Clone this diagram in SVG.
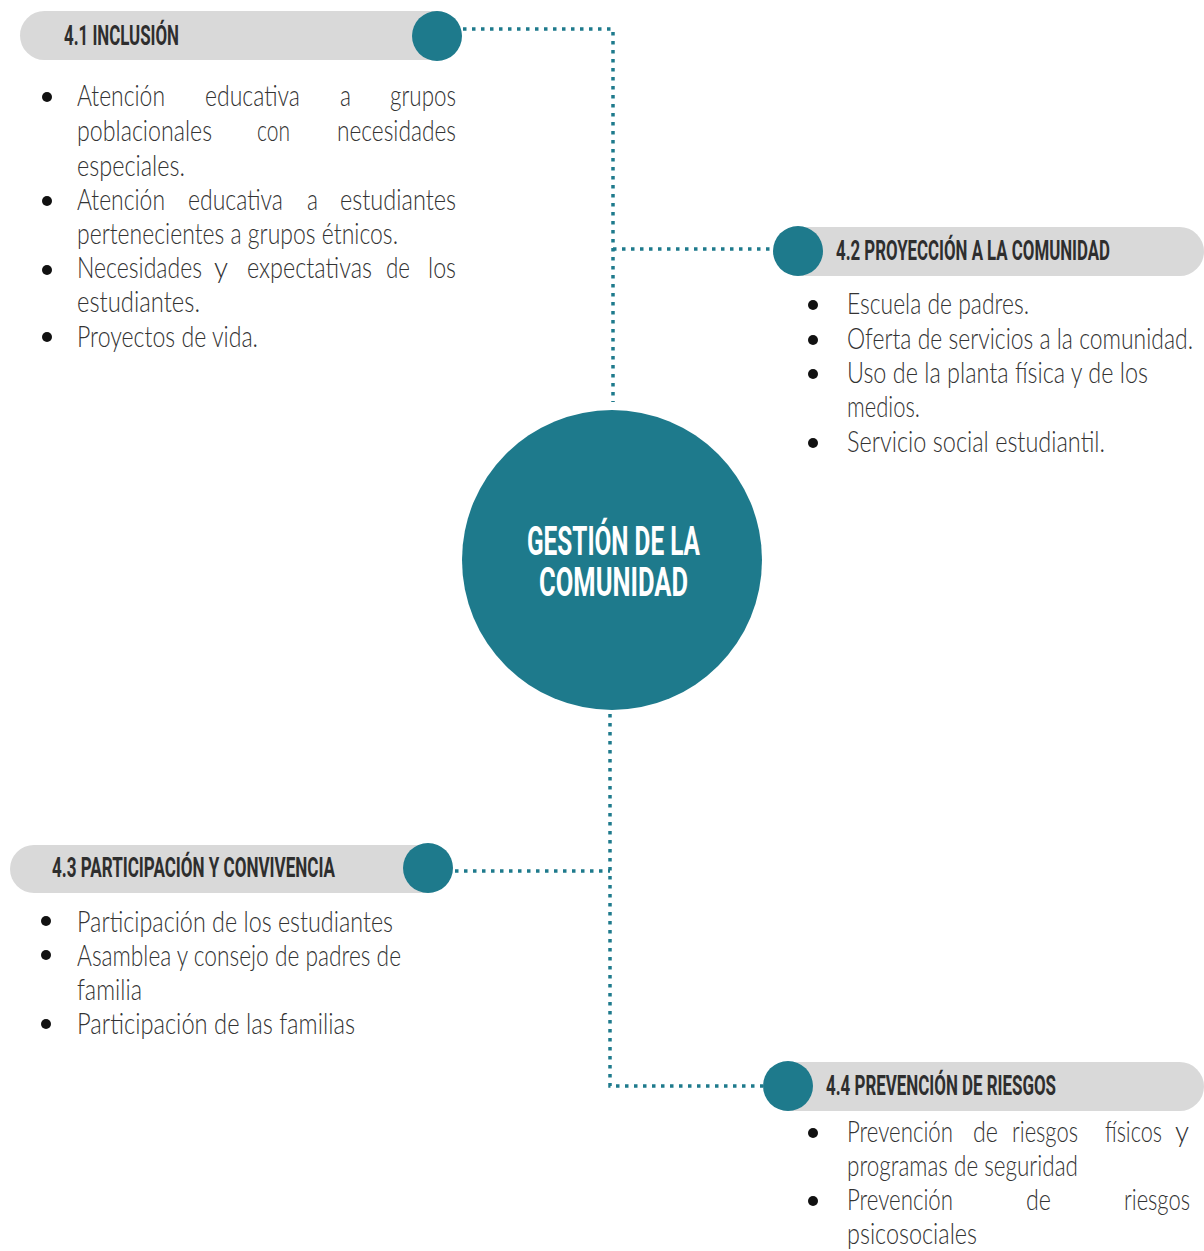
<svg xmlns="http://www.w3.org/2000/svg" width="1204" height="1251" viewBox="0 0 1204 1251">
<style>
.pill{fill:#d9d9d9}
.dot{fill:#1e7a8c}
.hd{font-family:Roboto,"Liberation Sans",sans-serif;font-weight:700;font-size:27px;fill:#2e2e2e}
.ct{font-family:Roboto,"Liberation Sans",sans-serif;font-weight:700;font-size:40px;fill:#fff}
.b{font-family:Lato,"Open Sans",sans-serif;font-weight:300;font-size:30px;fill:#333}
.bu{fill:#111}
.conn{fill:none;stroke:#1e7a8c;stroke-width:3.5;stroke-dasharray:3.5 5.5}
</style>
<rect width="1204" height="1251" fill="#fff"/>
<g id="connectors">
<path class="conn" d="M463 29H613V402"/>
<path class="conn" d="M613 249H773"/>
<path class="conn" d="M610 714V1086H763"/>
<path class="conn" d="M455 871H610"/>
</g>
<g id="center">
<circle cx="612" cy="560" r="150" fill="#1e7a8c"/>
<text class="ct" x="527" y="555" textLength="173" lengthAdjust="spacingAndGlyphs">GESTIÓN DE LA</text>
<text class="ct" x="539" y="596" textLength="149" lengthAdjust="spacingAndGlyphs">COMUNIDAD</text>
</g>
<g id="n41">
<rect class="pill" x="20" y="11" width="440" height="49" rx="24.5"/>
<circle class="dot" cx="437" cy="36" r="25"/>
<text class="hd" x="64" y="45" textLength="115" lengthAdjust="spacingAndGlyphs">4.1 INCLUSIÓN</text>
<circle class="bu" cx="47" cy="97" r="5"/>
<circle class="bu" cx="47" cy="201" r="5"/>
<circle class="bu" cx="47" cy="270" r="5"/>
<circle class="bu" cx="47" cy="337" r="5"/>
<text class="b" x="77" y="106" textLength="88" lengthAdjust="spacingAndGlyphs">Atención</text>
<text class="b" x="205" y="106" textLength="95" lengthAdjust="spacingAndGlyphs">educativa</text>
<text class="b" x="340" y="106" textLength="11" lengthAdjust="spacingAndGlyphs">a</text>
<text class="b" x="390" y="106" textLength="66" lengthAdjust="spacingAndGlyphs">grupos</text>
<text class="b" x="77" y="141" textLength="135" lengthAdjust="spacingAndGlyphs">poblacionales</text>
<text class="b" x="257" y="141" textLength="33" lengthAdjust="spacingAndGlyphs">con</text>
<text class="b" x="337" y="141" textLength="119" lengthAdjust="spacingAndGlyphs">necesidades</text>
<text class="b" x="77" y="176" textLength="108" lengthAdjust="spacingAndGlyphs">especiales.</text>
<text class="b" x="77" y="210" textLength="88" lengthAdjust="spacingAndGlyphs">Atención</text>
<text class="b" x="188" y="210" textLength="95" lengthAdjust="spacingAndGlyphs">educativa</text>
<text class="b" x="307" y="210" textLength="11" lengthAdjust="spacingAndGlyphs">a</text>
<text class="b" x="340" y="210" textLength="116" lengthAdjust="spacingAndGlyphs">estudiantes</text>
<text class="b" x="77" y="244" textLength="321" lengthAdjust="spacingAndGlyphs">pertenecientes a grupos étnicos.</text>
<text class="b" x="77" y="278" textLength="125" lengthAdjust="spacingAndGlyphs">Necesidades</text>
<text class="b" x="214" y="278" textLength="14" lengthAdjust="spacingAndGlyphs">y</text>
<text class="b" x="247" y="278" textLength="125" lengthAdjust="spacingAndGlyphs">expectativas</text>
<text class="b" x="386" y="278" textLength="24" lengthAdjust="spacingAndGlyphs">de</text>
<text class="b" x="428" y="278" textLength="28" lengthAdjust="spacingAndGlyphs">los</text>
<text class="b" x="77" y="312" textLength="123" lengthAdjust="spacingAndGlyphs">estudiantes.</text>
<text class="b" x="77" y="347" textLength="181" lengthAdjust="spacingAndGlyphs">Proyectos de vida.</text>
</g>
<g id="n42">
<rect class="pill" x="775" y="227" width="429" height="49" rx="24.5"/>
<circle class="dot" cx="798" cy="251" r="25"/>
<text class="hd" x="836" y="260" textLength="274" lengthAdjust="spacingAndGlyphs">4.2 PROYECCIÓN A LA COMUNIDAD</text>
<circle class="bu" cx="813" cy="305" r="5"/>
<circle class="bu" cx="813" cy="340" r="5"/>
<circle class="bu" cx="813" cy="374" r="5"/>
<circle class="bu" cx="813" cy="443" r="5"/>
<text class="b" x="847" y="314" textLength="182" lengthAdjust="spacingAndGlyphs">Escuela de padres.</text>
<text class="b" x="847" y="349" textLength="346" lengthAdjust="spacingAndGlyphs">Oferta de servicios a la comunidad.</text>
<text class="b" x="847" y="383" textLength="301" lengthAdjust="spacingAndGlyphs">Uso de la planta física y de los</text>
<text class="b" x="847" y="417" textLength="73" lengthAdjust="spacingAndGlyphs">medios.</text>
<text class="b" x="847" y="452" textLength="258" lengthAdjust="spacingAndGlyphs">Servicio social estudiantil.</text>
</g>
<g id="n43">
<rect class="pill" x="10" y="845" width="440" height="48" rx="24"/>
<circle class="dot" cx="428" cy="868" r="25"/>
<text class="hd" x="52" y="877" textLength="283" lengthAdjust="spacingAndGlyphs">4.3 PARTICIPACIÓN Y CONVIVENCIA</text>
<circle class="bu" cx="46" cy="921" r="5"/>
<circle class="bu" cx="46" cy="955" r="5"/>
<circle class="bu" cx="46" cy="1024" r="5"/>
<text class="b" x="77" y="932" textLength="316" lengthAdjust="spacingAndGlyphs">Participación de los estudiantes</text>
<text class="b" x="77" y="966" textLength="324" lengthAdjust="spacingAndGlyphs">Asamblea y consejo de padres de</text>
<text class="b" x="77" y="1000" textLength="65" lengthAdjust="spacingAndGlyphs">familia</text>
<text class="b" x="77" y="1034" textLength="278" lengthAdjust="spacingAndGlyphs">Participación de las familias</text>
</g>
<g id="n44">
<rect class="pill" x="765" y="1062" width="439" height="49" rx="24.5"/>
<circle class="dot" cx="788" cy="1086" r="25"/>
<text class="hd" x="826" y="1095" textLength="230" lengthAdjust="spacingAndGlyphs">4.4 PREVENCIÓN DE RIESGOS</text>
<circle class="bu" cx="813" cy="1133" r="5"/>
<circle class="bu" cx="813" cy="1201" r="5"/>
<text class="b" x="847" y="1142" textLength="106" lengthAdjust="spacingAndGlyphs">Prevención</text>
<text class="b" x="973" y="1142" textLength="25" lengthAdjust="spacingAndGlyphs">de</text>
<text class="b" x="1012" y="1142" textLength="66" lengthAdjust="spacingAndGlyphs">riesgos</text>
<text class="b" x="1105" y="1142" textLength="57" lengthAdjust="spacingAndGlyphs">físicos</text>
<text class="b" x="1175" y="1142" textLength="14" lengthAdjust="spacingAndGlyphs">y</text>
<text class="b" x="847" y="1176" textLength="231" lengthAdjust="spacingAndGlyphs">programas de seguridad</text>
<text class="b" x="847" y="1210" textLength="106" lengthAdjust="spacingAndGlyphs">Prevención</text>
<text class="b" x="1026" y="1210" textLength="25" lengthAdjust="spacingAndGlyphs">de</text>
<text class="b" x="1124" y="1210" textLength="66" lengthAdjust="spacingAndGlyphs">riesgos</text>
<text class="b" x="847" y="1244" textLength="130" lengthAdjust="spacingAndGlyphs">psicosociales</text>
</g>
</svg>
